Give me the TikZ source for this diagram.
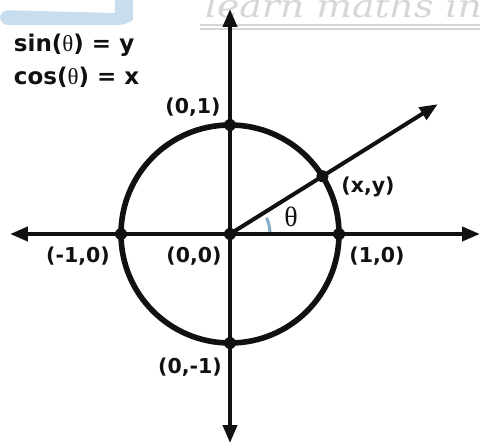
\documentclass[tikz,border=0pt]{standalone}
\usepackage{fontspec}
\setmainfont{DejaVu Sans}
\newfontfamily\serifth{Liberation Serif}
\newfontfamily\markfont[FakeStretch=1.18]{DejaVu Serif}
\usepackage{xcolor}
\usepackage{tikz}
\usetikzlibrary{arrows.meta,calc}
\definecolor{Ink}{HTML}{111111}
\definecolor{LogoBlue}{HTML}{C8DDEE}
\definecolor{MarkGray}{HTML}{D6D6D6}
\definecolor{ArcBlue}{HTML}{8AB0C8}
\newcommand{\tht}{{\serifth\mdseries θ}}
\tikzset{
  every picture/.style={line width=2pt},
  axisline/.style={draw=Ink, line width=2pt,
    {Triangle[length=9pt,width=7pt]}-{Triangle[length=9pt,width=7pt]}},
  rayline/.style={draw=Ink, line width=2pt, -{Triangle[length=9pt,width=7pt]}},
  unitcirc/.style={draw=Ink, line width=2.8pt},
  pt/.style={circle, fill=Ink, minimum size=6pt, inner sep=0pt},
  coordlabel/.style={font=\bfseries\fontsize{10.25}{12}\selectfont, text=Ink, inner sep=0pt},
  eqlabel/.style={coordlabel, align=left, font=\bfseries\fontsize{11.5}{16.5}\selectfont},
  thetalabel/.style={font=\serifth\fontsize{14}{16}\selectfont, text=Ink, inner sep=0pt},
  anglearc/.style={draw=ArcBlue, line width=1.6pt},
  marktext/.style={font=\markfont\itshape\fontsize{16}{18}\selectfont, text=MarkGray, inner sep=0pt},
  markrule/.style={draw=MarkGray, line width=0.6pt}
}
\begin{document}
\begin{tikzpicture}[x=0.5pt,y=0.5pt]
  \useasboundingbox (-230,-211) rectangle (250,234);

  % faint logo and watermark
  \begin{scope}
    \clip (-230,-211) rectangle (250,234);
    \fill[LogoBlue] (-230,224) -- (-115,221) -- (-115,234) -- (-97,234)
      -- (-97,214) [rounded corners=4pt] -- (-104,209) -- (-230,209) -- cycle;
    \node[marktext, anchor=base west] (mark) at (-27,216) {learn maths in};
    \draw[markrule] (-30,209) -- (250,209);
    \draw[markrule] (-30,205) -- (250,205);
  \end{scope}

  % points on the circle
  \coordinate (o) at (0,0);
  \coordinate (e1) at (0:109);
  \coordinate (e2) at (90:109);
  \coordinate (e3) at (180:109);
  \coordinate (e4) at (270:109);
  \coordinate (pxy) at (32:109);

  % axis and ray ends
  \coordinate (xl) at (-220,0);
  \coordinate (xr) at (250,0);
  \coordinate (yt) at (0,225);
  \coordinate (yb) at (0,-209);
  \coordinate (raytip) at (32:245);

  \draw[unitcirc] (o) circle (109);
  \draw[axisline] (xl) -- (xr);
  \draw[axisline] (yb) -- (yt);
  \draw[rayline] (o) -- (raytip);
  \draw[anglearc] ($(o)+(3:40)$) arc (3:24:40);

  \foreach \p in {o,e1,e2,e3,e4,pxy}
    \node[pt] (dot-\p) at (\p) {};

  \node[coordlabel] (lbl-o) at (-36,-22) {(0,0)};
  \node[coordlabel] (lbl-e1) at (147,-22) {(1,0)};
  \node[coordlabel] (lbl-e2) at (-37,127) {(0,1)};
  \node[coordlabel] (lbl-e3) at (-152,-22) {(-1,0)};
  \node[coordlabel] (lbl-e4) at (-40,-133) {(0,-1)};
  \node[coordlabel] (lbl-pxy) at (138,47) {(x,y)};
  \node[thetalabel] (lbl-theta) at (61,17) {θ};

  \node[eqlabel, anchor=west] (eqs) at (-218,173.5) {sin(\tht) = y\\cos(\tht) = x};
\end{tikzpicture}
\end{document}
